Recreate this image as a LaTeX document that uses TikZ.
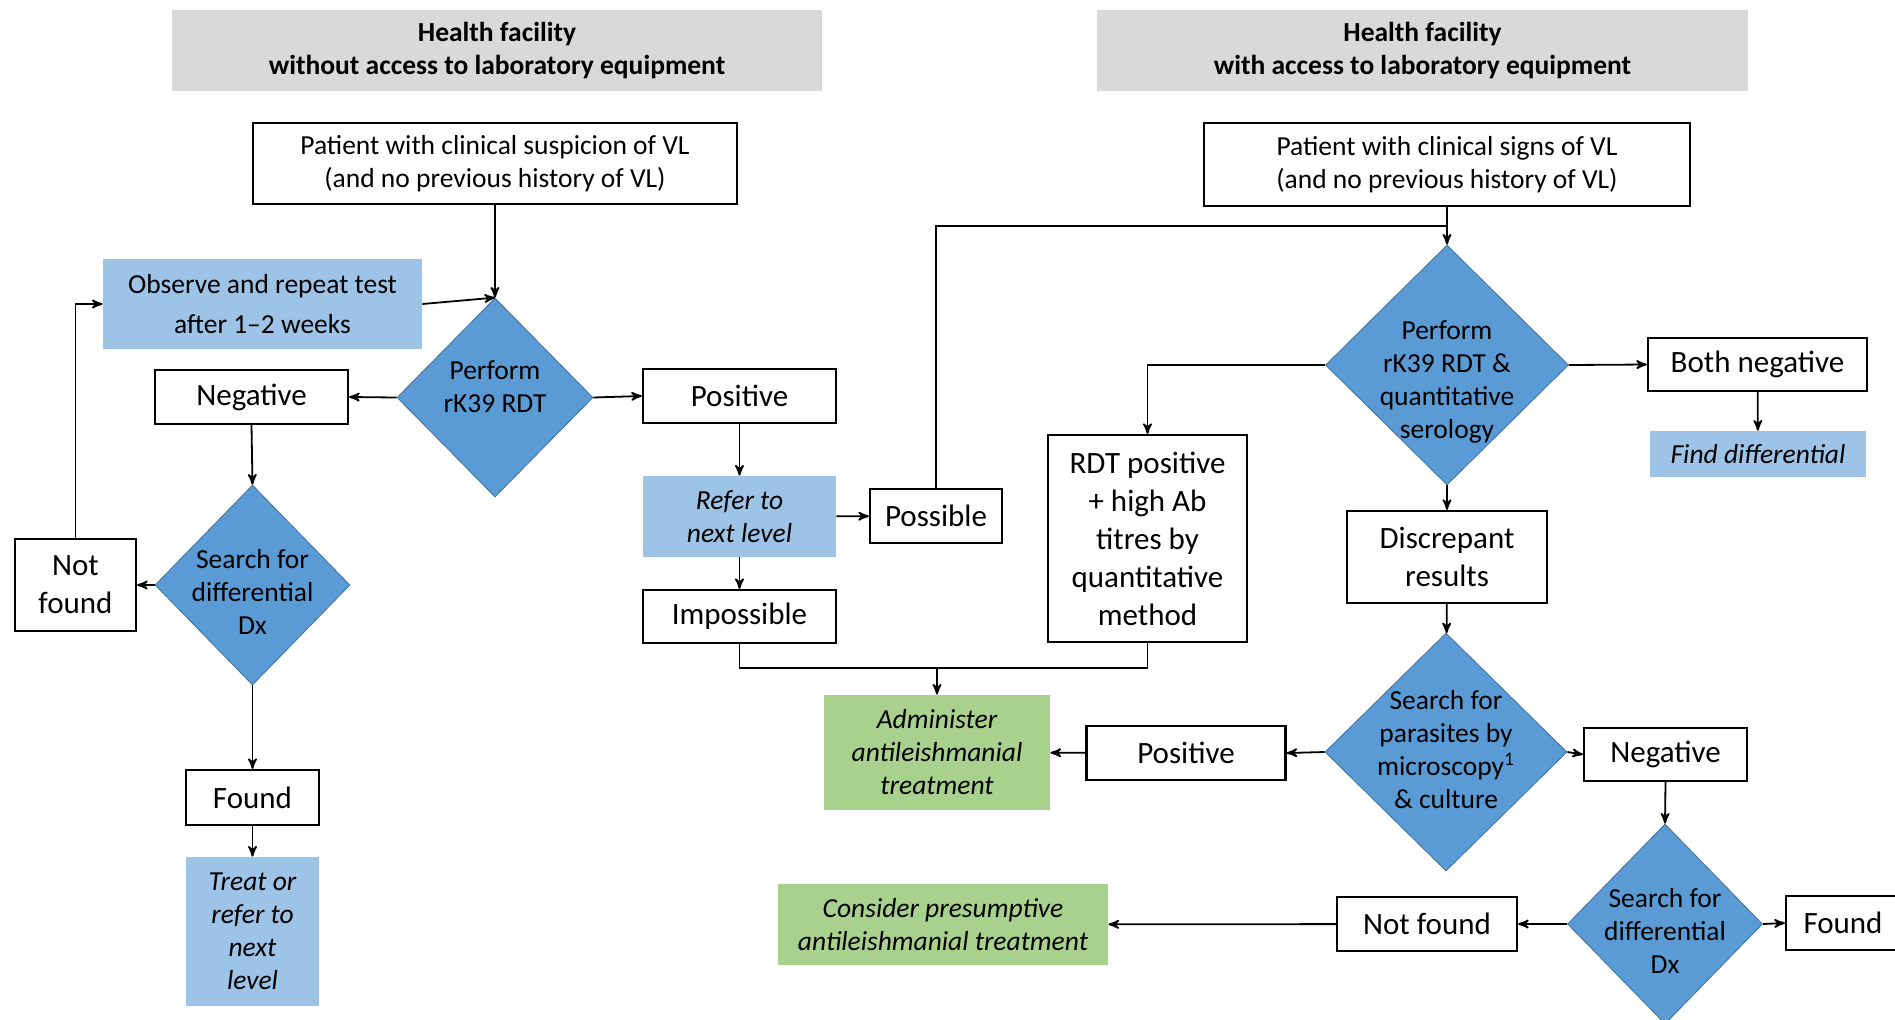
\documentclass[tikz,border=0pt]{standalone}
\usepackage{fontspec}
\setmainfont{Carlito}
\usepackage{tikz}
\usetikzlibrary{calc,positioning,arrows,shapes.geometric}
\definecolor{headgray}{HTML}{D9D9D9}
\definecolor{paleblue}{HTML}{9DC3E6}
\definecolor{stepblue}{HTML}{5B9BD5}
\definecolor{stepedge}{HTML}{41719C}
\definecolor{treatgreen}{HTML}{A9D18E}
\newcommand*\fntsmall{\fontsize{13.75pt}{16.5pt}\selectfont}
\newcommand*\fntlarge{\fontsize{15.5pt}{19pt}\selectfont}
\tikzset{
	>=stealth',
	header/.style={
		rectangle,
		fill=headgray,
		font=\fntsmall\bfseries,
		align=center},
	result/.style={
		rectangle,
		draw=black, line width=1.1pt,
		fill=white,
		font=\fntlarge,
		align=center,
		inner sep=1pt},
	patient/.style={result, font=\fntsmall},
	action/.style={
		rectangle,
		fill=paleblue,
		font=\fntsmall\itshape,
		align=center,
		inner sep=1pt},
	waitbox/.style={action, font=\fntsmall},
	treatment/.style={action, fill=treatgreen},
	decision/.style={
		diamond,
		fill=stepblue,
		draw=stepedge, thin,
		inner sep=0pt},
	dtext/.style={font=\fntsmall, align=center, inner sep=0pt},
	line/.style={draw, line width=0.9pt, ->},
	link/.style={draw, line width=0.9pt},
}

\begin{document}
\begin{tikzpicture}[x=0.5pt, y=-0.5pt]
\fill[white] (0,0) rectangle (1895,1019);
\useasboundingbox (0,0) rectangle (1895,1019);

% headers
\node[header, minimum width=325pt, minimum height=40.5pt] (headL) at (497,50.5) {Health facility\\without access to laboratory equipment};
\node[header, minimum width=325.5pt, minimum height=40.5pt] (headR) at (1422.5,50.5) {Health facility\\with access to laboratory equipment};

% without laboratory
\node[patient, minimum width=242pt, minimum height=40.5pt] (patL) at (495,163.5) {Patient with clinical suspicion of VL\\(and no previous history of VL)};
\node[decision, minimum width=98pt, minimum height=99.5pt] (rdtL) at (495,397.5) {};
\node[dtext] (rdtLtext) at ([yshift=5.5pt]rdtL.center) {Perform\\rK39 RDT};
\node[waitbox, minimum width=159.5pt, minimum height=45pt] (observe) at (262.5,304) {Observe and repeat test\\[3.5pt]after 1--2 weeks};
\node[result, minimum width=96.5pt, minimum height=27pt] (negL) at (251.5,397) {Negative};
\node[result, minimum width=96.5pt, minimum height=27pt] (posL) at (739.5,396) {Positive};
\node[decision, minimum width=97.5pt, minimum height=100pt] (diffL) at (252.5,585) {};
\node[dtext] (diffLtext) at ([yshift=-3.5pt]diffL.center) {Search for\\differential\\Dx};
\node[result, minimum width=60.5pt, minimum height=46pt] (nfL) at (75.5,585) {Not\\found};
\node[result, minimum width=66.5pt, minimum height=27.5pt] (foundL) at (252.5,797.5) {Found};
\node[action, minimum width=66.5pt, minimum height=74.5pt] (treatL) at (252.5,931.5) {Treat or\\refer to\\next\\level};
\node[action, minimum width=96.5pt, minimum height=40.5pt] (refer) at (739.5,516.5) {Refer to\\next level};
\node[result, minimum width=66pt, minimum height=27pt] (possible) at (936,516) {Possible};
\node[result, minimum width=96.5pt, minimum height=26.5pt] (impossible) at (739.5,616.5) {Impossible};
\node[treatment, minimum width=113pt, minimum height=57.5pt] (administer) at (937,752.5) {Administer\\antileishmanial\\treatment};

% with laboratory
\node[patient, minimum width=243pt, minimum height=41.5pt] (patR) at (1447,164.5) {Patient with clinical signs of VL\\(and no previous history of VL)};
\node[decision, minimum width=121.5pt, minimum height=120pt] (rdtR) at (1447,365) {};
\node[dtext] (rdtRtext) at ([yshift=-8.5pt]rdtR.center) {Perform\\rK39 RDT \&\\quantitative\\serology};
\node[result, minimum width=109.5pt, minimum height=26.5pt] (bothneg) at (1757.5,364.5) {Both negative};
\node[action, minimum width=108pt, minimum height=23pt] (finddiff) at (1758,454) {Find differential};
\node[result, minimum width=99.5pt, minimum height=103.5pt] (rdtpos) at (1147.5,538.5) {RDT positive\\+ high Ab\\titres by\\quantitative\\method};
\node[result, minimum width=100pt, minimum height=46pt] (discrep) at (1447,557) {Discrepant\\results};
\node[decision, minimum width=121pt, minimum height=119pt] (parasite) at (1446,752) {};
\node[dtext] (parasitetext) at ([yshift=1.25pt]parasite.center) {Search for\\parasites by\\microscopy\textsuperscript{1}\\\& culture};
\node[result, minimum width=99.5pt, minimum height=27pt] (posR) at (1186,753) {Positive};
\node[result, minimum width=81.5pt, minimum height=26.5pt] (negR) at (1665.5,754.5) {Negative};
\node[decision, minimum width=97.5pt, minimum height=100pt] (diffR) at (1665,924) {};
\node[dtext] (diffRtext) at ([yshift=-3.5pt]diffR.center) {Search for\\differential\\Dx};
\node[result, minimum width=90pt, minimum height=27pt] (nfR) at (1427,924) {Not found};
\node[result, minimum width=57pt, minimum height=27pt] (foundR) at (1843,923) {Found};
\node[treatment, minimum width=165pt, minimum height=40.5pt] (consider) at (943,924.5) {Consider presumptive\\antileishmanial treatment};

% connectors, left
\path[line] (patL.south) -- (rdtL.north);
\path[line] (observe.east) -- (rdtL.north);
\path[line] (rdtL.west) -- (negL.east);
\path[line] (rdtL.east) -- (posL.west);
\path[line] (negL.south) -- (diffL.north);
\path[line] (diffL.west) -- (nfL.east);
\path[line] (diffL.south) -- (foundL.north);
\path[line] (foundL) -- (treatL);
\path[line] (nfL.north) |- (observe.west);
\path[line] (posL) -- (refer);
\path[line] (refer) -- (possible);
\path[line] (refer) -- (impossible);

% connectors, right
\coordinate (joinR) at (1447,226);
\coordinate (joinA) at (937,668);
\path[link] (possible.north) |- (joinR);
\path[line] (patR.south) -- (rdtR.north);
\path[link] (impossible.south) |- (joinA) -| (rdtpos.south);
\path[line] (joinA) -- (administer.north);
\path[line] (rdtR.west) -| (rdtpos.north);
\path[line] (rdtR.east) -- (bothneg.west);
\path[line] (bothneg) -- (finddiff);
\path[line] (rdtR) -- (discrep);
\path[line] (discrep) -- (parasite);
\path[line] (parasite.west) -- (posR.east);
\path[line] (posR) -- (administer);
\path[line] (parasite.east) -- (negR.west);
\path[line] (negR.south) -- (diffR.north);
\path[line] (diffR.west) -- (nfR.east);
\path[line] (nfR) -- (consider);
\path[line] (diffR.east) -- (foundR.west);
\end{tikzpicture}
\end{document}
